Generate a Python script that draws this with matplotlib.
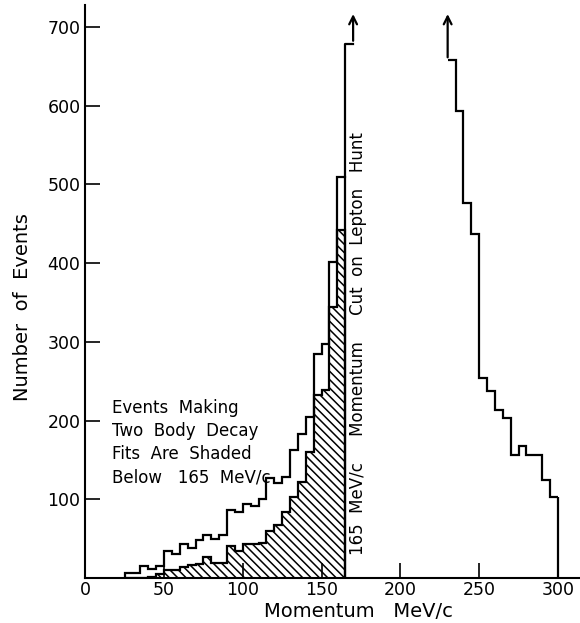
import numpy as np
import matplotlib
matplotlib.use("Agg")
import matplotlib.pyplot as plt

# ============================================================
# 数据
# ============================================================

# 左侧直方图: 25-165 MeV/c, 每格 5 MeV/c
left_edges = np.arange(25, 170, 5)
all_events = [7, 7, 16, 12, 16, 35, 31, 44, 38, 48, 55, 50, 55, 86,
              84, 94, 91, 101, 127, 121, 129, 163, 183, 205, 285, 297, 402, 510]
# 两体衰变拟合事例 (阴影部分)
two_body = [0, 0, 0, 2, 5, 10, 10, 14, 17, 18, 27, 19, 19, 41,
            35, 44, 43, 45, 60, 68, 84, 103, 122, 160, 232, 239, 345, 442]

# 右侧直方图: 230-300 MeV/c
right_edges = np.arange(230, 305, 5)
right_events = [658, 593, 476, 437, 254, 238, 213, 203, 156, 168, 156, 156, 125, 103]

# 超出量程的峰 (箭头)
left_peak = 679
cut_momentum = 165

x_ticks = [0, 50, 100, 150, 200, 250, 300]
y_ticks = [100, 200, 300, 400, 500, 600, 700]

# ============================================================
# 绘图
# ============================================================

plt.rcParams['font.family'] = ['DejaVu Sans']
plt.rcParams['hatch.linewidth'] = 1.1
fig = plt.figure(figsize=(5.8, 6.23), dpi=100)
ax = fig.add_axes([0.147, 0.072, 0.853, 0.92])

lw = 1.6
ax.stairs(two_body, left_edges, fill=True, facecolor='white', edgecolor='black',
          hatch='\\' * 4, linewidth=lw)
ax.stairs(all_events, left_edges, baseline=0, color='black', linewidth=lw)

# 165 MeV/c 处的截断和箭头
ax.plot([cut_momentum, cut_momentum, cut_momentum + 5],
        [all_events[-1], left_peak, left_peak], color='black', linewidth=lw)
ax.annotate('', xy=(cut_momentum + 5, 720), xytext=(cut_momentum + 5, left_peak),
            arrowprops=dict(arrowstyle='->', lw=lw, color='black', mutation_scale=14))

# 右侧直方图
ax.stairs(right_events, right_edges, baseline=None, color='black', linewidth=lw)
ax.vlines(right_edges[-1], 0, right_events[-1], color='black', linewidth=lw)
ax.annotate('', xy=(right_edges[0], 720), xytext=(right_edges[0], right_events[0]),
            arrowprops=dict(arrowstyle='->', lw=lw, color='black', mutation_scale=14))

ax.set_xlim(0, 314)
ax.set_ylim(0, 728)
for s in ['top', 'right']:
    ax.spines[s].set_visible(False)
ax.spines['left'].set_linewidth(1.5)
ax.spines['bottom'].set_linewidth(1.5)

ax.set_xticks(x_ticks)
ax.set_yticks(y_ticks)
ax.tick_params(direction='in', length=11, width=1.2, labelsize=12.5)
ax.tick_params(axis='x', pad=2)

ax.set_xlabel('Momentum   MeV/c', fontsize=14)
ax.set_ylabel('Number  of  Events', fontsize=14)
ax.xaxis.set_label_coords(0.553, -0.042)
ax.yaxis.set_label_coords(-0.108, 0.473)

ax.text(17, 228, 'Events  Making\nTwo  Body  Decay\nFits  Are  Shaded\nBelow   165  MeV/c',
        fontsize=12, va='top', ha='left', linespacing=1.38)
ax.text(167.3, 29, '165  MeV/c     Momentum     Cut  on  Lepton   Hunt',
        fontsize=12, rotation=90, va='bottom', ha='left')

plt.savefig('out.png', dpi=100)
